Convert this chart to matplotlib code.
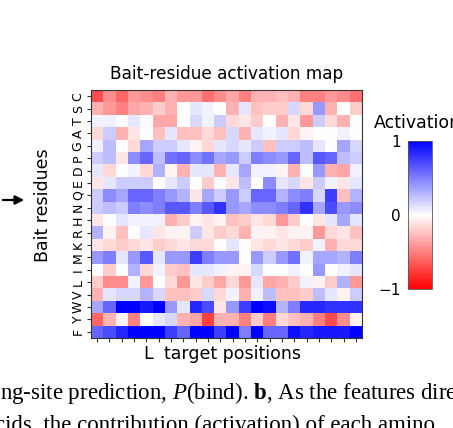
import numpy as np
import matplotlib
matplotlib.use("Agg")
import matplotlib.pyplot as plt

plt.rcParams["mathtext.fontset"] = "custom"
plt.rcParams["mathtext.rm"] = "Liberation Serif"
plt.rcParams["mathtext.it"] = "Liberation Serif:italic"
plt.rcParams["mathtext.bf"] = "Liberation Serif:bold"

residues = ["C", "S", "T", "A", "G", "P", "D", "E", "Q", "N",
            "H", "R", "K", "M", "I", "L", "V", "W", "Y", "F"]  # top to bottom
n_positions = 22

act_C = [-0.7, -0.45, -0.6, -0.4, -0.45, -0.5, -0.3, -0.4, -0.4, -0.55, -0.45, -0.35, -0.5, -0.3, -0.3, -0.25, -0.3, -0.5, -0.5, -0.4, -0.45, -0.55]
act_S = [-0.3, -0.4, -0.5, -0.35, -0.3, -0.2, -0.3, 0.0, 0.1, 0.05, 0.0, -0.3, 0.1, -0.25, -0.2, -0.2, 0.15, -0.15, 0.4, -0.3, 0.0, -0.2]
act_T = [0.05, 0.05, 0.02, 0.1, 0.02, -0.35, -0.35, 0.0, 0.15, 0.05, 0.2, -0.15, -0.1, -0.2, 0.0, -0.3, -0.1, -0.4, 0.2, -0.15, -0.3, 0.0]
act_A = [-0.15, 0.2, -0.3, -0.1, 0.0, -0.25, 0.1, -0.25, -0.25, -0.15, -0.25, 0.15, -0.3, 0.1, 0.05, 0.1, -0.15, -0.05, 0.0, 0.0, 0.05, 0.0]
act_G = [0.05, 0.25, 0.0, -0.15, 0.35, 0.2, 0.2, 0.1, -0.05, -0.15, 0.1, 0.15, 0.1, 0.2, -0.25, 0.2, 0.2, 0.25, 0.1, 0.0, 0.35, 0.15]
act_P = [0.2, 0.25, -0.1, 0.45, 0.6, 0.25, 0.55, 0.6, 0.45, 0.55, 0.35, 0.4, 0.2, 0.5, 0.45, 0.4, 0.6, 0.25, 0.65, 0.6, 0.25, 0.2]
act_D = [0.1, -0.15, 0.0, 0.05, -0.15, 0.3, -0.05, -0.3, 0.1, 0.1, -0.3, 0.1, 0.35, 0.05, 0.05, -0.05, -0.3, 0.0, 0.4, -0.3, -0.35, 0.05]
act_E = [-0.1, 0.1, 0.2, 0.2, 0.2, 0.0, 0.1, 0.2, 0.0, -0.2, 0.0, -0.1, 0.25, 0.0, 0.45, 0.1, 0.15, -0.1, 0.2, 0.05, -0.1, 0.1]
act_Q = [0.2, 0.45, 0.35, 0.6, 0.6, 0.5, 0.4, 0.3, -0.1, 0.35, 0.2, 0.4, 0.2, 0.6, 0.6, 0.3, 0.45, 0.5, 0.15, 0.75, -0.25, 0.3]
act_N = [0.2, 0.25, 0.2, 0.5, 0.45, 0.5, 0.65, 0.65, 0.5, 0.65, 0.8, 0.4, 0.35, 0.45, 0.45, 0.5, 0.6, 0.8, 0.35, 0.7, 0.4, 0.45]
act_H = [-0.1, 0.0, 0.1, 0.05, 0.05, 0.05, -0.3, -0.2, -0.05, -0.1, -0.05, -0.25, -0.2, -0.1, -0.15, -0.4, -0.2, 0.0, -0.1, 0.1, 0.35, 0.1]
act_R = [0.3, -0.05, -0.25, 0.0, 0.1, -0.1, -0.05, -0.05, 0.2, -0.1, -0.2, -0.15, -0.3, -0.05, -0.05, -0.1, -0.05, -0.05, -0.4, -0.15, -0.1, -0.25]
act_K = [-0.1, -0.15, -0.2, -0.15, -0.1, -0.2, -0.15, -0.1, -0.15, -0.15, 0.0, 0.1, 0.0, -0.1, -0.15, -0.1, -0.15, -0.2, 0.05, -0.3, -0.15, -0.15]
act_M = [0.4, 0.5, 0.1, 0.4, 0.65, 0.1, 0.4, 0.4, 0.75, 0.5, 0.4, 0.4, 0.0, 0.4, 0.2, 0.4, 0.55, 0.05, 0.35, 0.35, 0.3, 0.5]
act_I = [0.0, -0.2, 0.0, 0.3, -0.15, 0.05, -0.2, -0.25, 0.1, 0.1, 0.05, -0.05, -0.05, 0.15, 0.0, 0.0, 0.05, 0.0, 0.4, 0.0, 0.05, 0.1]
act_L = [-0.2, -0.45, -0.45, 0.05, -0.4, 0.0, -0.15, -0.4, -0.1, -0.2, -0.35, -0.15, -0.4, 0.1, -0.35, -0.3, -0.2, 0.05, -0.05, -0.2, 0.3, -0.4]
act_V = [-0.3, 0.1, 0.15, 0.15, 0.3, 0.15, -0.25, -0.25, -0.2, 0.15, -0.15, 0.05, -0.3, 0.05, 0.25, -0.25, -0.25, -0.2, 0.25, 0.1, -0.05, 0.2]
act_W = [0.35, 0.6, 1.0, 1.0, 0.9, 1.0, 0.4, 0.1, 0.85, 0.7, -0.1, 0.4, 0.75, 1.0, 0.95, 0.3, 0.5, 0.85, 0.85, 0.8, 0.8, 0.8]
act_Y = [-0.6, -0.3, -0.05, -0.5, 0.0, 0.1, 0.15, -0.3, -0.35, -0.75, -0.3, -0.3, -0.5, -0.2, -0.5, -0.15, -0.25, -0.3, -0.5, -0.7, -0.45, -0.05]
act_F = [0.6, 0.7, 0.85, 1.0, 1.0, 1.0, 0.75, 0.6, 1.0, 1.0, 0.75, 1.0, 0.5, 1.0, 0.6, 0.6, 0.95, 0.85, 0.9, 0.9, 0.9, 1.0]

activation = np.array([act_C, act_S, act_T, act_A, act_G, act_P, act_D, act_E, act_Q, act_N,
                       act_H, act_R, act_K, act_M, act_I, act_L, act_V, act_W, act_Y, act_F])

fig = plt.figure(figsize=(4.53, 4.28), dpi=100)
ax = fig.add_axes([91/453, 1-338/428, 271/453, 248/428])
im = ax.imshow(activation, cmap="bwr_r", vmin=-1, vmax=1, aspect="auto",
               interpolation="nearest")
ax.set_xticks(np.arange(n_positions))
ax.set_xticklabels([])
ax.set_yticks(np.arange(len(residues)))
ax.set_yticklabels(residues, rotation=90, va="center", fontsize=9)
ax.tick_params(axis="both", length=3, width=0.8, color="#333333")
ax.tick_params(axis="y", pad=1.5)
for s in ax.spines.values():
    s.set_color("#333333")
    s.set_linewidth(0.8)
ax.set_title("Bait-residue activation map", fontsize=12.2, pad=8)
ax.set_ylabel("Bait residues", fontsize=12.5)
ax.yaxis.set_label_coords(-0.145, 0.536)

fig.text(148/453, 1-354/428, "L", fontsize=12.5, ha="center", va="center")
fig.text(233/453, 1-354/428, "target positions", fontsize=12.5, ha="center", va="center")

cax = fig.add_axes([408/453, 1-289/428, 24/453, 148/428])
cb = fig.colorbar(im, cax=cax, ticks=[-1, 0, 1])
cb.ax.yaxis.set_ticks_position("left")
cb.ax.tick_params(length=0, labelsize=11, pad=5)
cb.ax.set_yticklabels(["\u22121", "0", "1"])
cb.outline.set_linewidth(0.6)
cb.outline.set_edgecolor("#555555")
fig.text(374/453, 1-123/428, "Activation", fontsize=12.5, ha="left", va="center")

fig.add_artist(matplotlib.patches.FancyArrowPatch(
    (0/453, 1-200/428), (27/453, 1-200/428), transform=fig.transFigure,
    arrowstyle="-|>", mutation_scale=13, color="black", lw=1.6))

fig.text(0/453, 1-393/428, "ng-site prediction, $\\mathit{P}$(bind). $\\mathbf{b}$, As the features dire",
         fontsize=16.5, family="Liberation Serif", ha="left", va="center")
fig.text(-5/453, 1-425/428, "cids, the contribution (activation) of each amino",
         fontsize=16.5, family="Liberation Serif", ha="left", va="center")

fig.savefig("out.png", dpi=100)
